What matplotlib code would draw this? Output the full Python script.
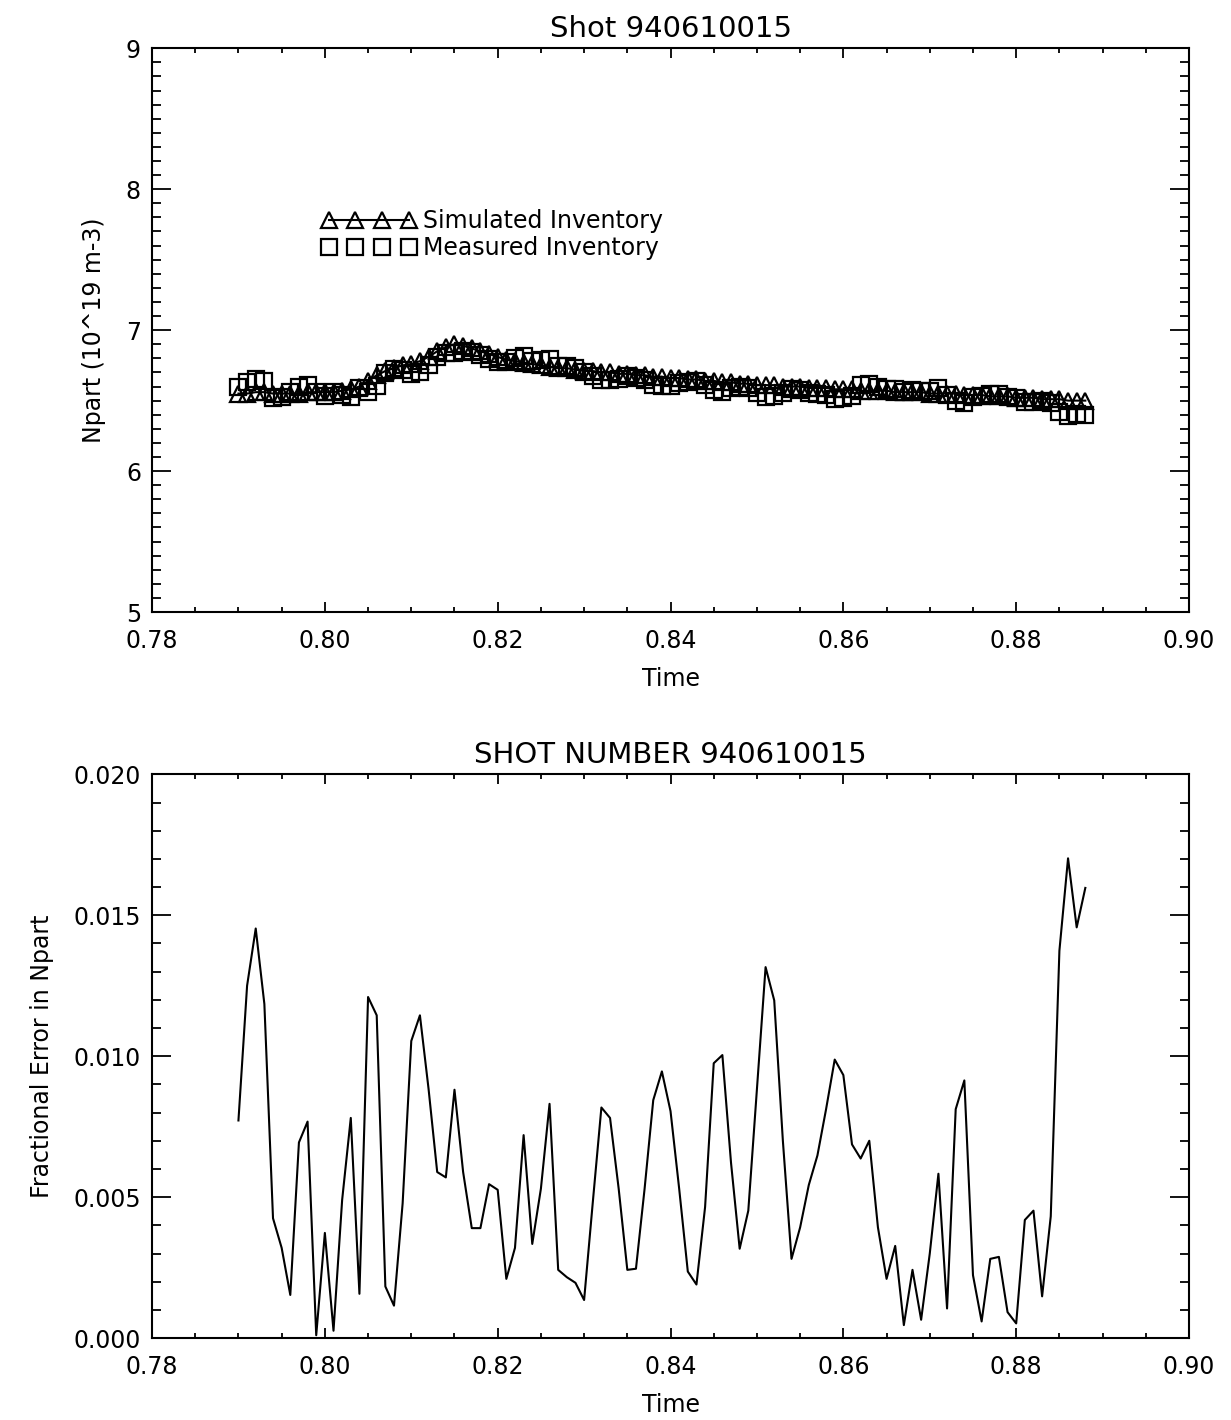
import numpy as np
import matplotlib.pyplot as plt

# sampling times (1 ms steps, 0.790 .. 0.888)
time = np.round(np.arange(790, 889) * 1e-3, 3)

# simulated particle inventory (10^19 m-3)
simulated = [6.55, 6.55, 6.56, 6.56, 6.55, 6.55, 6.55, 6.55, 6.56, 6.56,
             6.56, 6.56, 6.57, 6.58, 6.60, 6.64, 6.68, 6.71, 6.73, 6.75,
             6.76, 6.78, 6.81, 6.85, 6.88, 6.90, 6.89, 6.87, 6.85, 6.83,
             6.81, 6.79, 6.78, 6.77, 6.76, 6.75, 6.74, 6.73, 6.73, 6.72,
             6.71, 6.71, 6.70, 6.70, 6.69, 6.69, 6.68, 6.68, 6.67, 6.67,
             6.66, 6.66, 6.65, 6.65, 6.64, 6.64, 6.63, 6.63, 6.62, 6.62,
             6.61, 6.61, 6.61, 6.60, 6.60, 6.60, 6.59, 6.59, 6.59, 6.58,
             6.58, 6.58, 6.57, 6.57, 6.57, 6.57, 6.56, 6.56, 6.56, 6.56,
             6.55, 6.55, 6.55, 6.55, 6.54, 6.54, 6.54, 6.53, 6.53, 6.53,
             6.52, 6.52, 6.52, 6.51, 6.51, 6.51, 6.50, 6.50, 6.50]

# measured particle inventory (10^19 m-3)
measured = [6.600, 6.632, 6.655, 6.638, 6.522, 6.529, 6.560, 6.595, 6.611, 6.561,
            6.536, 6.558, 6.538, 6.529, 6.589, 6.560, 6.603, 6.698, 6.722, 6.718,
            6.689, 6.702, 6.750, 6.810, 6.841, 6.839, 6.849, 6.843, 6.823, 6.792,
            6.774, 6.776, 6.802, 6.819, 6.782, 6.786, 6.796, 6.746, 6.745, 6.733,
            6.701, 6.678, 6.645, 6.648, 6.655, 6.674, 6.663, 6.645, 6.614, 6.607,
            6.606, 6.625, 6.634, 6.637, 6.609, 6.575, 6.564, 6.589, 6.599, 6.590,
            6.552, 6.523, 6.531, 6.554, 6.582, 6.574, 6.554, 6.547, 6.537, 6.515,
            6.519, 6.535, 6.612, 6.616, 6.596, 6.584, 6.582, 6.563, 6.576, 6.565,
            6.570, 6.588, 6.543, 6.497, 6.480, 6.526, 6.536, 6.548, 6.549, 6.524,
            6.517, 6.493, 6.491, 6.500, 6.482, 6.421, 6.390, 6.405, 6.396]

# fractional error in Npart
frac_error = [0.00772, 0.0125, 0.01453, 0.01185, 0.00425, 0.0032, 0.00153, 0.00694, 0.00768, 0.0001,
              0.00373, 0.00026, 0.0049, 0.00781, 0.00157, 0.0121, 0.01145, 0.00183, 0.00115, 0.00478,
              0.01054, 0.01145, 0.00884, 0.00589, 0.0057, 0.00881, 0.00589, 0.0039, 0.0039, 0.00546,
              0.00526, 0.0021, 0.0032, 0.0072, 0.00334, 0.0053, 0.00831, 0.00242, 0.00216, 0.00196,
              0.00135, 0.0048, 0.00818, 0.00781, 0.0053, 0.00242, 0.00246, 0.0053, 0.00844, 0.00946,
              0.00805, 0.0053, 0.00236, 0.0019, 0.00465, 0.00975, 0.01004, 0.00622, 0.00317, 0.00452,
              0.00884, 0.01316, 0.01198, 0.0070, 0.00281, 0.00393, 0.00543, 0.00648, 0.00812, 0.00988,
              0.00933, 0.00687, 0.00637, 0.0070, 0.00393, 0.0021, 0.00327, 0.00046, 0.00242, 0.00065,
              0.0030, 0.00583, 0.00105, 0.00812, 0.00914, 0.00223, 0.00059, 0.00281, 0.00288, 0.00092,
              0.00052, 0.00419, 0.00452, 0.00148, 0.00432, 0.01374, 0.01702, 0.01457, 0.01597]

x_ticks = [0.78, 0.80, 0.82, 0.84, 0.86, 0.88, 0.90]
x_ticklabels = ['0.78', '0.80', '0.82', '0.84', '0.86', '0.88', '0.90']
top_yticks = [5, 6, 7, 8, 9]
bot_yticks = [0.000, 0.005, 0.010, 0.015, 0.020]
bot_yticklabels = ['0.000', '0.005', '0.010', '0.015', '0.020']

plt.rcParams['font.family'] = ['DejaVu Sans']
FS = 17


def style_axes(ax, ymin, ymax, yticks, yminor):
    ax.set_xlim(0.78, 0.90)
    ax.set_ylim(ymin, ymax)
    ax.set_xticks(x_ticks)
    ax.set_xticklabels(x_ticklabels)
    ax.set_xticks(np.arange(0.78, 0.9001, 0.005), minor=True)
    ax.set_yticks(yticks)
    ax.set_yticks(np.arange(ymin, ymax + yminor / 2, yminor), minor=True)
    ax.tick_params(axis='both', which='both', direction='in', top=True, right=True,
                   labelsize=FS, width=1.3, colors='black')
    ax.tick_params(axis='x', which='major', length=7, pad=12)
    ax.tick_params(axis='x', which='minor', length=3.5)
    ax.tick_params(axis='y', which='major', length=13.5, pad=8)
    ax.tick_params(axis='y', which='minor', length=6.5)
    for s in ax.spines.values():
        s.set_linewidth(1.5)
    ax.set_xlabel('Time', fontsize=FS, labelpad=10)


fig = plt.figure(figsize=(12.31, 14.20), dpi=100)

# top panel: inventories
ax1 = fig.add_axes([0.1235, 0.569, 0.8424, 0.397])
ax1.plot(time, simulated, color='black', lw=1.5, marker='^', ms=12,
         mfc='none', mec='black', mew=1.6, label='Simulated Inventory')
ax1.plot(time, measured, color='black', ls='none', marker='s', ms=12,
         mfc='none', mec='black', mew=1.6, label='Measured Inventory')
style_axes(ax1, 5, 9, top_yticks, 0.1)
ax1.set_ylabel('Npart (10^19 m-3)', fontsize=FS, labelpad=14)
ax1.set_title('Shot 940610015', fontsize=21, pad=8)
ax1.legend(loc='upper left', bbox_to_anchor=(0.152, 0.735), frameon=False,
           numpoints=4, handlelength=4.0, handletextpad=0.3, labelspacing=0.1,
           borderpad=0, fontsize=FS, markerscale=1.0)

# bottom panel: fractional error
ax2 = fig.add_axes([0.1235, 0.0577, 0.8424, 0.397])
ax2.plot(time, frac_error, color='black', lw=1.5)
style_axes(ax2, 0.0, 0.020, bot_yticks, 0.001)
ax2.set_yticklabels(bot_yticklabels)
ax2.set_ylabel('Fractional Error in Npart', fontsize=FS, labelpad=14)
ax2.set_title('SHOT NUMBER 940610015', fontsize=21, pad=8)

fig.savefig('out.png', dpi=100)
